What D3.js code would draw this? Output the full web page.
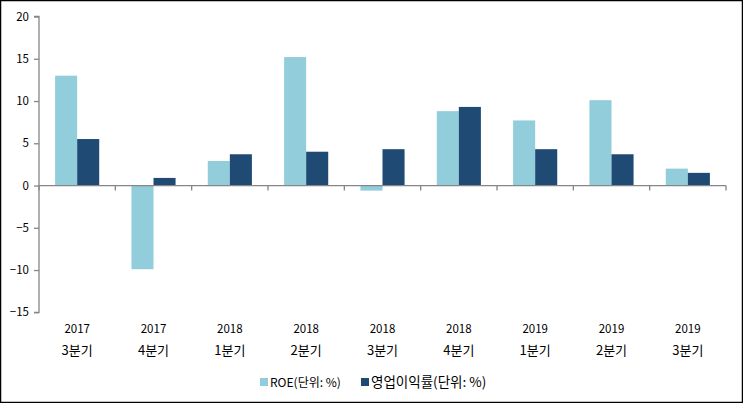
<!DOCTYPE html>
<html><head><meta charset="utf-8">
<script src="https://cdn.jsdelivr.net/npm/d3@7/dist/d3.min.js"></script>
<style>
html,body{margin:0;padding:0;background:#fff;}
svg{display:block;}
text{font-family:"Noto Sans CJK KR","DejaVu Sans",sans-serif;font-size:11px;fill:#000;}
</style></head><body>
<svg id="c" width="743" height="403"></svg>
<script>
const years = ["2017","2017","2018","2018","2018","2018","2019","2019","2019"];
const quarters = ["3분기","4분기","1분기","2분기","3분기","4분기","1분기","2분기","3분기"];
const roe = [13.0, -9.9, 2.9, 15.2, -0.6, 8.8, 7.7, 10.1, 2.0];
const opMargin = [5.5, 0.9, 3.7, 4.0, 4.3, 9.3, 4.3, 3.7, 1.5];
const seriesNames = ["ROE(단위: %)", "영업이익률(단위: %)"];
const colors = ["#92CDDC", "#1F4A73"];
const yTicks = [-15,-10,-5,0,5,10,15,20];

const svg = d3.select("#c");
svg.append("rect").attr("x",0.5).attr("y",0.5).attr("width",742).attr("height",402)
  .attr("fill","#fff").attr("stroke","#000").attr("stroke-width",1.5);

const L=39, R=726, T=16.5, B=312.3;
const idx = d3.range(years.length);
const x = d3.scaleBand().domain(idx).range([L,R]).paddingInner(0).paddingOuter(0);
const y = d3.scaleLinear().domain([-15,20]).range([B,T]);
const inner = d3.scaleBand().domain([0,1]).range([0,x.bandwidth()]).paddingInner(0).paddingOuter(0.73);

const axisColor = "#868686";
[roe, opMargin].forEach((vals, s) => {
  svg.append("g").selectAll("rect").data(idx).join("rect")
    .attr("x", i => x(i) + inner(s))
    .attr("width", inner.bandwidth())
    .attr("y", i => y(Math.max(0, vals[i])))
    .attr("height", i => Math.abs(y(vals[i]) - y(0)))
    .attr("fill", colors[s]);
});

const yAxis = d3.axisLeft(y).tickValues(yTicks).tickSize(5).tickPadding(4).tickFormat(d3.format("d"));
const gy = svg.append("g").attr("transform",`translate(${L},0)`).call(yAxis);
gy.select(".domain").attr("stroke",axisColor).attr("stroke-width",1.3).attr("d",`M-5,${T}H0V${B}H-5`);
gy.selectAll(".tick line").attr("stroke",axisColor).attr("stroke-width",1.3);
gy.selectAll(".tick text").style("font-size","11.5px").attr("fill","#000").attr("dx","-1");

const gx = svg.append("g").attr("transform",`translate(0,${y(0)})`);
gx.append("line").attr("x1",L).attr("x2",R).attr("stroke",axisColor).attr("stroke-width",1.3);
gx.selectAll("line.t").data(d3.range(years.length+1)).join("line").attr("class","t")
  .attr("x1",i => i<years.length ? x(i) : R).attr("x2",i => i<years.length ? x(i) : R)
  .attr("y1",0).attr("y2",5).attr("stroke",axisColor).attr("stroke-width",1.3);

const gl = svg.append("g");
gl.selectAll("text.yr").data(idx).join("text").attr("class","yr")
  .attr("x", i => x(i)+x.bandwidth()/2).attr("y",333).attr("text-anchor","middle")
  .style("font-size","11.5px").text(i=>years[i]);
gl.selectAll("text.q").data(idx).join("text").attr("class","q")
  .attr("x", i => x(i)+x.bandwidth()/2).attr("y",355).attr("text-anchor","middle")
  .style("font-size","13px").text(i=>quarters[i]);

const lg = svg.append("g");
const lx = [260, 361];
seriesNames.forEach((n,s)=>{
  lg.append("rect").attr("x",lx[s]).attr("y",378).attr("width",8).attr("height",8).attr("fill",colors[s]);
  lg.append("text").attr("x",lx[s]+10).attr("y",387).style("font-size", s===0?"12px":"13.5px").text(n);
});
</script>
</body></html>
